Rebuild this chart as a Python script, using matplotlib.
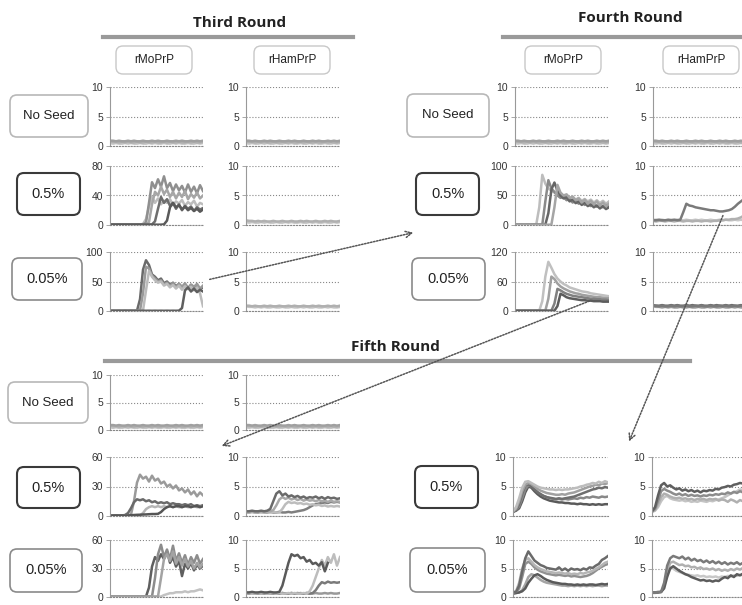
import matplotlib.pyplot as plt
import numpy as np
from matplotlib.patches import FancyBboxPatch, FancyArrowPatch
from matplotlib.transforms import Affine2D

W, H = 742, 605

# ThT readings, 32 time points per well
flat_a = [0.8, 0.7, 0.7, 0.6, 0.7, 0.6, 0.7, 0.6, 0.6, 0.7, 0.6, 0.6, 0.7, 0.6, 0.6, 0.7,
          0.6, 0.6, 0.7, 0.6, 0.7, 0.6, 0.6, 0.7, 0.6, 0.6, 0.7, 0.6, 0.7, 0.6, 0.6, 0.7]
flat_b = [0.5, 0.4, 0.5, 0.4, 0.4, 0.5, 0.4, 0.5, 0.4, 0.4, 0.5, 0.4, 0.4, 0.5, 0.4, 0.5,
          0.4, 0.4, 0.5, 0.4, 0.4, 0.5, 0.4, 0.5, 0.4, 0.4, 0.5, 0.4, 0.4, 0.5, 0.4, 0.5]
flat_c = [0.9, 0.9, 0.8, 0.9, 0.8, 0.8, 0.9, 0.8, 0.9, 0.8, 0.8, 0.9, 0.8, 0.8, 0.9, 0.8,
          0.9, 0.8, 0.8, 0.9, 0.8, 0.8, 0.9, 0.8, 0.9, 0.8, 0.8, 0.9, 0.8, 0.9, 0.8, 0.9]
flat_d = [1.0, 0.9, 0.9, 1.0, 0.9, 0.9, 1.0, 0.9, 1.0, 0.9, 0.9, 1.0, 0.9, 1.0, 0.9, 0.9,
          1.0, 0.9, 0.9, 1.0, 0.9, 1.0, 0.9, 0.9, 1.0, 0.9, 1.0, 0.9, 0.9, 1.0, 0.9, 1.0]

no_seed = [flat_b, flat_a, flat_c]

# third round
r3_05_mo = [
    [0.5, 0.6, 0.5, 0.6, 0.5, 0.6, 0.5, 0.6, 0.5, 0.6, 0.7, 1.5, 8, 25, 38, 30,
     36, 28, 33, 30, 35, 27, 32, 29, 34, 26, 31, 28, 33, 25, 30, 28],
    [0.5, 0.5, 0.6, 0.5, 0.5, 0.6, 0.5, 0.5, 0.6, 0.5, 0.6, 0.8, 3, 30, 58, 50,
     62, 52, 66, 50, 57, 46, 55, 47, 53, 44, 55, 45, 52, 43, 54, 46],
    [0.4, 0.5, 0.4, 0.5, 0.4, 0.5, 0.4, 0.5, 0.4, 0.5, 0.4, 0.5, 0.6, 4, 28, 45,
     40, 52, 42, 48, 38, 45, 36, 44, 38, 46, 35, 42, 37, 44, 36, 40],
    [0.5, 0.4, 0.5, 0.4, 0.5, 0.4, 0.5, 0.4, 0.5, 0.4, 0.5, 0.4, 0.5, 0.5, 0.8, 5,
     22, 38, 30, 35, 26, 30, 22, 28, 20, 26, 22, 25, 19, 24, 21, 23],
    [0.4, 0.5, 0.4, 0.5, 0.4, 0.5, 0.4, 0.5, 0.4, 0.5, 0.4, 0.5, 0.4, 0.5, 0.4, 0.5,
     0.4, 0.5, 0.8, 6, 24, 30, 24, 27, 21, 25, 20, 23, 19, 22, 18, 21],
]
r3_005_mo = [
    [0.5, 0.4, 0.5, 0.4, 0.5, 0.4, 0.5, 0.4, 0.5, 0.6, 20, 70, 86, 78, 62, 58,
     52, 55, 47, 50, 44, 48, 42, 46, 40, 45, 38, 44, 40, 43, 37, 40],
    [0.4, 0.5, 0.4, 0.5, 0.4, 0.5, 0.4, 0.5, 0.4, 0.5, 0.6, 30, 75, 72, 60, 55,
     50, 52, 45, 48, 42, 47, 40, 46, 41, 47, 39, 45, 41, 46, 38, 43],
    [0.5, 0.4, 0.5, 0.4, 0.5, 0.4, 0.5, 0.4, 0.5, 0.4, 0.5, 0.6, 35, 68, 58, 52,
     48, 50, 43, 46, 40, 44, 38, 43, 36, 42, 37, 41, 35, 40, 30, 8],
    [0.4, 0.5, 0.4, 0.5, 0.4, 0.5, 0.4, 0.5, 0.4, 0.5, 0.4, 0.5, 0.4, 0.5, 0.4, 0.5,
     0.4, 0.5, 0.4, 0.5, 0.4, 0.5, 0.4, 0.6, 5, 35, 40, 33, 38, 32, 36, 33],
]
r3_05_ham = [flat_b, flat_a]
r3_005_ham = [flat_a, flat_c]

# fourth round
r4_05_mo = [
    [0.5, 0.4, 0.5, 0.4, 0.5, 0.4, 0.5, 0.6, 30, 85, 70, 62, 58, 55, 52, 54,
     48, 50, 45, 48, 43, 46, 41, 44, 40, 43, 38, 42, 37, 41, 36, 40],
    [0.4, 0.5, 0.4, 0.5, 0.4, 0.5, 0.4, 0.5, 0.4, 0.6, 40, 76, 62, 56, 50, 46,
     48, 42, 45, 38, 42, 36, 40, 34, 38, 32, 37, 31, 35, 30, 34, 31],
    [0.5, 0.4, 0.5, 0.4, 0.5, 0.4, 0.5, 0.4, 0.5, 0.4, 0.6, 20, 60, 72, 58, 50,
     45, 47, 40, 43, 37, 40, 34, 38, 32, 35, 30, 33, 28, 32, 27, 30],
    [0.4, 0.5, 0.4, 0.5, 0.4, 0.5, 0.4, 0.5, 0.4, 0.5, 0.4, 0.5, 0.6, 30, 68, 55,
     50, 52, 46, 48, 42, 45, 38, 43, 36, 41, 35, 40, 33, 38, 32, 36],
]
r4_005_mo = [
    [0.5, 0.4, 0.5, 0.4, 0.5, 0.4, 0.5, 0.4, 0.6, 20, 70, 100, 88, 75, 66, 60,
     55, 52, 48, 46, 44, 42, 40, 39, 38, 36, 35, 34, 33, 32, 31, 30],
    [0.4, 0.5, 0.4, 0.5, 0.4, 0.5, 0.4, 0.5, 0.4, 0.5, 0.6, 25, 70, 65, 56, 50,
     46, 43, 40, 38, 36, 35, 33, 32, 31, 30, 29, 28, 28, 27, 26, 26],
    [0.5, 0.4, 0.5, 0.4, 0.5, 0.4, 0.5, 0.4, 0.5, 0.4, 0.5, 0.4, 0.6, 15, 45, 42,
     38, 35, 33, 31, 30, 29, 28, 27, 26, 25, 25, 24, 24, 23, 23, 22],
    [0.4, 0.5, 0.4, 0.5, 0.4, 0.5, 0.4, 0.5, 0.4, 0.5, 0.4, 0.5, 0.4, 0.6, 10, 35,
     32, 28, 26, 25, 24, 23, 22, 22, 21, 21, 20, 20, 20, 19, 19, 19],
]
r4_05_ham = [
    flat_c,
    [0.7, 0.6, 0.7, 0.7, 0.6, 0.7, 0.7, 0.6, 0.7, 0.7, 0.6, 0.7, 0.7, 0.6, 0.7, 0.7,
     0.6, 0.7, 0.7, 0.6, 0.7, 0.7, 0.8, 0.8, 0.9, 0.9, 1.0, 1.0, 1.1, 1.3, 1.6, 2.0],
    [0.8, 0.8, 0.9, 0.8, 0.8, 0.9, 0.8, 0.9, 0.8, 0.9, 2.2, 3.6, 3.3, 3.2, 3.0, 2.9,
     2.8, 2.7, 2.6, 2.5, 2.5, 2.4, 2.3, 2.3, 2.4, 2.5, 2.7, 3.1, 3.6, 4.0, 4.4, 4.8],
]
r4_005_ham = [flat_a, flat_d, flat_c]

# fifth round
r5_05_mo = [
    [0.5, 0.6, 0.5, 0.6, 0.5, 0.6, 0.8, 1.5, 15, 34, 42, 38, 40, 35, 41, 36,
     38, 33, 35, 30, 32, 28, 31, 26, 28, 24, 27, 22, 25, 20, 24, 21],
    [0.5, 0.5, 0.6, 0.5, 0.6, 1.0, 3, 8, 14, 17, 16, 17, 15, 16, 14, 15,
     13, 14, 13, 14, 12, 13, 12, 12, 11, 12, 11, 12, 10, 11, 10, 11],
    [0.5, 0.4, 0.5, 0.4, 0.5, 0.4, 0.5, 0.4, 0.5, 0.4, 0.6, 3, 7, 9, 10, 9,
     10, 9, 10, 9, 10, 9, 10, 9, 9, 10, 9, 9, 10, 9, 9, 10],
    [0.5, 0.5, 0.6, 0.5, 0.6, 0.5, 0.6, 0.8, 1.0, 1.2, 1.3, 1.5, 1.6, 1.8, 2.0, 2.0,
     2.2, 4, 7, 9, 10, 9, 10, 10, 9, 10, 10, 9, 10, 10, 9, 10],
]
r5_05_ham = [
    [0.6, 0.6, 0.7, 0.6, 0.6, 0.7, 0.6, 0.6, 0.7, 0.6, 0.6, 0.7, 0.6, 0.6, 0.7, 0.6,
     0.7, 0.8, 0.9, 1.0, 1.2, 1.5, 1.8, 2.0, 2.1, 2.2, 2.3, 2.2, 2.4, 2.3, 2.4, 2.3],
    [0.6, 0.6, 0.7, 0.6, 0.7, 0.6, 0.6, 0.7, 0.6, 0.7, 0.6, 0.6, 1.2, 2.0, 2.4, 2.2,
     2.3, 2.1, 2.2, 2.0, 2.1, 1.9, 2.0, 1.8, 1.9, 1.7, 1.8, 1.6, 1.7, 1.6, 1.7, 1.6],
    [0.7, 0.7, 0.8, 0.7, 0.7, 0.8, 0.7, 0.8, 0.8, 1.0, 1.8, 2.8, 3.2, 2.9, 3.1, 2.8,
     3.0, 2.7, 2.9, 2.6, 2.8, 2.6, 2.7, 2.5, 2.7, 2.5, 2.6, 2.4, 2.6, 2.4, 2.5, 2.4],
    [0.8, 0.8, 0.9, 0.8, 0.8, 0.9, 0.8, 0.9, 1.2, 2.5, 3.8, 4.2, 3.5, 3.8, 3.3, 3.5,
     3.2, 3.4, 3.1, 3.3, 3.0, 3.2, 3.1, 3.3, 3.0, 3.2, 2.9, 3.2, 3.0, 3.1, 2.9, 3.0],
]
r5_005_mo = [
    [0.4, 0.5, 0.4, 0.5, 0.4, 0.5, 0.4, 0.5, 0.4, 0.5, 0.4, 0.5, 0.4, 0.5, 0.4, 0.5,
     0.4, 0.5, 2, 3, 4, 4, 5, 5, 5, 6, 5, 6, 6, 7, 8, 7],
    [0.5, 0.4, 0.5, 0.4, 0.5, 0.4, 0.5, 0.4, 0.5, 0.4, 0.5, 0.4, 0.5, 10, 32, 42,
     38, 45, 40, 48, 36, 42, 32, 38, 22, 35, 30, 36, 28, 34, 30, 33],
    [0.4, 0.5, 0.4, 0.5, 0.4, 0.5, 0.4, 0.5, 0.4, 0.5, 0.4, 0.5, 0.4, 0.5, 0.6, 20,
     45, 55, 42, 50, 40, 54, 38, 46, 36, 44, 34, 42, 36, 44, 35, 40],
    [0.5, 0.4, 0.5, 0.4, 0.5, 0.4, 0.5, 0.4, 0.5, 0.4, 0.5, 0.4, 0.5, 0.4, 0.5, 0.4,
     0.6, 20, 40, 45, 38, 48, 35, 42, 33, 40, 32, 38, 30, 36, 31, 35],
]
r5_005_ham = [
    flat_a,
    [0.6, 0.6, 0.7, 0.6, 0.6, 0.7, 0.6, 0.7, 0.6, 0.6, 0.7, 0.6, 0.7, 0.6, 0.6, 0.7,
     0.6, 0.7, 0.6, 0.6, 0.7, 0.6, 0.7, 1.2, 2.0, 2.6, 2.4, 2.7, 2.5, 2.6, 2.5, 2.6],
    [0.6, 0.7, 0.6, 0.6, 0.7, 0.6, 0.7, 0.6, 0.6, 0.7, 0.6, 0.7, 0.6, 0.6, 0.7, 0.6,
     0.7, 0.6, 0.6, 0.7, 0.6, 1.0, 2.0, 3.5, 5.0, 6.5, 5.5, 7.0, 6.0, 7.5, 5.5, 7.0],
    [0.8, 0.8, 0.9, 0.8, 0.8, 0.9, 0.8, 0.8, 0.9, 0.8, 0.8, 0.9, 2.0, 4.0, 6.0, 7.5,
     7.2, 7.4, 6.8, 7.0, 6.2, 6.5, 5.8, 6.0, 5.5, 6.1, 4.5, 6.0,
     np.nan, np.nan, np.nan, np.nan],
]

# fifth round, right block
r5b_05_mo = [
    [0.7, 0.9, 1.3, 2.5, 4.0, 5.0, 4.8, 4.2, 3.7, 3.3, 3.0, 2.8, 2.6, 2.5, 2.4, 2.3,
     2.3, 2.2, 2.2, 2.1, 2.1, 2.0, 2.1, 2.0, 2.0, 1.9, 2.0, 1.9, 2.0, 1.9, 2.0, 2.0],
    [0.8, 1.0, 1.6, 3.0, 4.5, 5.2, 5.0, 4.6, 4.1, 3.7, 3.4, 3.2, 3.0, 2.9, 2.8, 2.9,
     2.8, 2.9, 2.8, 2.9, 3.0, 2.9, 3.1, 3.0, 3.2, 3.1, 3.3, 3.2, 3.1, 3.3, 3.2, 3.3],
    [0.7, 1.0, 2.0, 3.8, 5.2, 5.4, 5.0, 4.5, 4.0, 3.7, 3.4, 3.2, 3.1, 3.0, 2.9, 3.0,
     2.9, 3.0, 3.1, 3.2, 3.3, 3.5, 3.7, 3.9, 4.1, 4.3, 4.5, 4.6, 4.8, 4.7, 4.9, 4.8],
    [0.8, 1.2, 2.5, 4.2, 5.3, 5.6, 5.4, 5.0, 4.6, 4.3, 4.1, 3.9, 3.8, 3.7, 3.6, 3.6,
     3.7, 3.6, 3.8, 3.9, 4.0, 4.2, 4.4, 4.6, 4.8, 5.0, 5.1, 5.3, 5.2, 5.5, 5.4, 5.6],
    [0.8, 1.5, 3.0, 4.8, 5.8, 5.9, 5.6, 5.3, 5.0, 4.8, 4.7, 4.6, 4.5, 4.5, 4.4, 4.5,
     4.4, 4.5, 4.5, 4.6, 4.7, 4.8, 5.0, 5.1, 5.3, 5.4, 5.6, 5.5, 5.8, 5.6, 5.9, 5.7],
]
r5b_05_ham = [
    [0.7, 0.9, 1.5, 2.5, 3.2, 3.4, 3.0, 2.8, 2.7, 2.6, 2.7, 2.5, 2.6, 2.4, 2.5, 2.4,
     2.6, 2.5, 2.4, 2.6, 2.5, 2.7, 2.8, 3.0, 3.2, 3.5, 3.8, 4.0, 4.2, 4.5, 4.4, 4.6],
    [0.7, 1.0, 2.0, 3.2, 3.8, 3.6, 3.3, 3.1, 3.0, 3.1, 2.9, 3.0, 2.8, 2.9, 2.7, 2.9,
     2.8, 2.9, 2.7, 2.9, 2.8, 2.9, 2.6, 2.8, 2.7, 2.4, 2.8, 2.6, 2.3, 2.7, 2.5, 2.6],
    [0.8, 1.2, 2.6, 4.2, 4.6, 4.3, 4.1, 3.8, 3.6, 3.8, 3.5, 3.7, 3.4, 3.6, 3.4, 3.5,
     3.3, 3.5, 3.4, 3.6, 3.5, 3.7, 3.6, 3.8, 3.7, 4.0, 3.8, 4.1, 3.9, 4.2, 4.0, 4.3],
    [0.8, 1.5, 3.5, 5.2, 5.6, 5.0, 5.2, 4.8, 4.5, 4.7, 4.3, 4.5, 4.2, 4.4, 4.1, 4.3,
     4.0, 4.3, 4.2, 4.4, 4.3, 4.6, 4.5, 4.8, 4.9, 5.1, 5.0, 5.3, 5.4, 5.6, 5.5, 5.8],
]
r5b_005_mo = [
    [0.6, 0.7, 0.8, 1.2, 2.2, 3.5, 4.0, 3.8, 3.4, 3.0, 2.7, 2.5, 2.4, 2.3, 2.2, 2.1,
     2.0, 2.0, 1.9, 2.0, 1.9, 2.0, 1.9, 2.0, 1.9, 2.0, 1.9, 2.0, 2.0, 1.9, 2.0, 2.0],
    [0.6, 0.7, 0.8, 1.0, 1.5, 2.5, 3.2, 3.8, 4.0, 3.7, 3.3, 3.0, 2.8, 2.6, 2.5, 2.4,
     2.3, 2.3, 2.2, 2.2, 2.1, 2.2, 2.1, 2.2, 2.1, 2.2, 2.2, 2.1, 2.2, 2.3, 2.2, 2.3],
    [0.8, 0.9, 1.5, 3.5, 5.8, 6.2, 5.8, 5.2, 4.8, 4.5, 4.3, 4.1, 4.0, 3.9, 3.8, 3.9,
     3.8, 3.7, 3.8, 3.6, 3.7, 3.6, 3.5, 3.6, 3.7, 3.9, 4.2, 4.6, 5.0, 5.3, 5.6, 5.8],
    [0.8, 1.0, 2.5, 5.0, 6.5, 6.8, 6.2, 5.6, 5.2, 4.9, 4.7, 4.5, 4.4, 4.3, 4.2, 4.3,
     4.2, 4.1, 4.2, 4.0, 4.1, 4.0, 4.2, 4.1, 4.3, 4.4, 4.6, 4.9, 5.2, 5.6, 6.0, 6.2],
    [0.8, 0.9, 2.0, 4.5, 6.8, 8.0, 7.2, 6.4, 6.0, 5.6, 5.4, 5.1, 5.0, 4.9, 4.8, 5.2,
     4.7, 5.0, 4.6, 5.0, 4.8, 4.9, 4.7, 5.0, 4.8, 5.2, 5.1, 5.5, 5.8, 6.5, 6.8, 7.2],
]
r5b_005_ham = [
    [0.7, 0.7, 0.8, 0.8, 1.8, 4.0, 5.2, 5.0, 4.6, 4.4, 4.2, 4.0, 3.9, 3.8, 3.7, 3.8,
     3.6, 3.7, 3.5, 3.6, 3.5, 3.6, 3.4, 3.6, 3.5, 3.7, 3.6, 3.8, 3.7, 3.9, 3.8, 4.0],
    [0.7, 0.8, 0.8, 0.9, 2.0, 4.5, 6.0, 6.2, 5.9, 5.6, 5.7, 5.4, 5.5, 5.2, 5.3, 5.0,
     5.2, 4.9, 5.0, 4.8, 5.0, 4.7, 4.9, 4.6, 4.8, 4.6, 4.9, 4.7, 5.0, 4.8, 5.1, 4.9],
    [0.8, 0.8, 0.8, 0.9, 1.5, 3.5, 5.0, 5.4, 5.0, 4.6, 4.3, 4.0, 3.8, 3.5, 3.3, 3.1,
     2.9, 3.0, 2.8, 2.9, 2.7, 2.9, 2.8, 3.2, 3.5, 3.3, 3.8, 3.5, 4.0, 3.8, 4.1, 4.0],
    [0.8, 0.8, 0.9, 0.9, 2.5, 5.5, 6.8, 7.2, 7.0, 6.8, 7.1, 6.6, 6.9, 6.4, 6.7, 6.3,
     6.5, 6.1, 6.4, 6.0, 6.3, 5.9, 6.2, 5.8, 6.1, 5.7, 6.0, 5.8, 6.1, 5.7, 6.0, 5.9],
]

# gray levels for the wells
light = ['#c4c4c4', '#b0b0b0', '#a0a0a0']
mixed = ['#bdbdbd', '#8f8f8f', '#a6a6a6', '#6e6e6e', '#5a5a5a']
mixed4 = ['#6a6a6a', '#999999', '#bbbbbb', '#5f5f5f']
grays4 = ['#bdbdbd', '#8a8a8a', '#666666', '#a5a5a5']
grays4b = ['#c0c0c0', '#a0a0a0', '#808080', '#5c5c5c']
ham4 = ['#c8c8c8', '#b0b0b0', '#7a7a7a']
dark_flat = ['#999999', '#6e6e6e', '#7a7a7a']
r5mo = ['#9a9a9a', '#6a6a6a', '#b5b5b5', '#555555']
r5ham = ['#7f7f7f', '#bdbdbd', '#a8a8a8', '#6a6a6a']
r5mo2 = ['#c2c2c2', '#5f5f5f', '#8c8c8c', '#a3a3a3']
r5ham2 = ['#999999', '#7a7a7a', '#bdbdbd', '#5a5a5a']
band5 = ['#5a5a5a', '#888888', '#6e6e6e', '#a0a0a0', '#bdbdbd']
band4 = ['#c4c4c4', '#b0b0b0', '#8c8c8c', '#5f5f5f']
band5b = ['#a5a5a5', '#5a5a5a', '#909090', '#b5b5b5', '#6a6a6a']
band4b = ['#c8c8c8', '#b0b0b0', '#5c5c5c', '#7a7a7a']

fig = plt.figure(figsize=(W / 100, H / 100), dpi=100)
fig.patch.set_facecolor('white')

# image-pixel coordinates, y pointing down
px = Affine2D().scale(1 / W, -1 / H).translate(0, 1) + fig.transFigure


def panel(x0, x1, ytop, ybot, ymax, traces, shades):
    ax = fig.add_axes([x0 / W, 1 - ybot / H, (x1 - x0) / W, (ybot - ytop) / H])
    for y, c in zip(traces, shades):
        ax.plot(np.arange(len(y)), y, color=c, lw=1.8, solid_joinstyle='round')
    ax.set_xlim(0, 31)
    ax.set_ylim(0, ymax)
    ticks = [0, ymax / 2, ymax]
    ax.set_yticks(ticks)
    ax.set_yticklabels([f'{v:g}' for v in ticks], family='Liberation Sans')
    ax.set_xticks([])
    ax.tick_params(axis='y', labelsize=7.5, labelcolor='#333333', color='#999999',
                   length=3, width=0.6, pad=2)
    ax.yaxis.grid(True, linestyle=':', color='#888888', lw=0.8)
    ax.set_axisbelow(True)
    for s in ('top', 'right'):
        ax.spines[s].set_visible(False)
    ax.spines['bottom'].set_linestyle(':')
    ax.spines['bottom'].set_color('#888888')
    ax.spines['left'].set_color('#999999')
    ax.spines['left'].set_linewidth(0.8)
    return ax


def tag(x0, y0, x1, y1, text, edge, lw=1.3, size=10):
    box = FancyBboxPatch((x0, y0), x1 - x0, y1 - y0,
                         boxstyle='round,pad=0,rounding_size=7',
                         transform=px, facecolor='white', edgecolor=edge, lw=lw)
    fig.add_artist(box)
    fig.text((x0 + x1) / 2 / W, 1 - (y0 + y1) / 2 / H, text, ha='center', va='center',
             fontsize=size, color='#222222', family='Liberation Sans')


def heading(cx, cy, text, bx0, bx1, by):
    fig.text(cx / W, 1 - cy / H, text, ha='center', va='center', fontsize=11,
             fontweight='bold', color='#222222', family='Open Sans')
    fig.add_artist(plt.Line2D([bx0, bx1], [by, by], transform=px,
                              color='#9a9a9a', lw=3))


def arrow(a, b):
    fig.add_artist(FancyArrowPatch(a, b, transform=px, arrowstyle='->',
                                   mutation_scale=11, linestyle=(0, (1, 1)),
                                   color='#555555', lw=1.1, zorder=5))


# rows of each block (top, bottom in pixels)
rows_top = [(87, 146), (166, 225), (252, 311)]
rows_low = [(375, 430), (457, 516), (540, 597)]

# third round
panel(110, 203, *rows_top[0], 10, no_seed, light)
panel(246, 340, *rows_top[0], 10, no_seed, light)
panel(110, 203, *rows_top[1], 80, r3_05_mo, mixed)
panel(246, 340, *rows_top[1], 10, r3_05_ham, light)
panel(110, 203, *rows_top[2], 100, r3_005_mo, mixed4)
panel(246, 340, *rows_top[2], 10, r3_005_ham, light)

# fourth round
panel(515, 609, *rows_top[0], 10, no_seed, light)
panel(653, 747, *rows_top[0], 10, no_seed, light)
panel(515, 609, *rows_top[1], 100, r4_05_mo, grays4)
panel(653, 747, *rows_top[1], 10, r4_05_ham, ham4)
panel(515, 609, *rows_top[2], 120, r4_005_mo, grays4b)
panel(653, 747, *rows_top[2], 10, r4_005_ham, dark_flat)

# fifth round
panel(110, 203, *rows_low[0], 10, no_seed, light)
panel(246, 340, *rows_low[0], 10, no_seed, light)
panel(110, 203, *rows_low[1], 60, r5_05_mo, r5mo)
panel(246, 340, *rows_low[1], 10, r5_05_ham, r5ham)
panel(110, 203, *rows_low[2], 60, r5_005_mo, r5mo2)
panel(246, 340, *rows_low[2], 10, r5_005_ham, r5ham2)
panel(513, 608, *rows_low[1], 10, r5b_05_mo, band5)
panel(652, 746, *rows_low[1], 10, r5b_05_ham, band4)
panel(513, 608, *rows_low[2], 10, r5b_005_mo, band5b)
panel(652, 746, *rows_low[2], 10, r5b_005_ham, band4b)

# headings
heading(240, 23, 'Third Round', 103, 353, 37)
heading(630, 18, 'Fourth Round', 503, 745, 37)
heading(395, 347, 'Fifth Round', 105, 690, 361)

# column labels
for x0, x1, lab in [(116, 192, 'rMoPrP'), (254, 330, 'rHamPrP'),
                    (525, 601, 'rMoPrP'), (663, 739, 'rHamPrP')]:
    tag(x0, 46, x1, 74, lab, '#c8c8c8', lw=1.0, size=8.5)

# row labels
seed_tags = [
    (10, 95, 88, 137, 'No Seed', '#b8b8b8'),
    (17, 173, 80, 215, '0.5%', '#3a3a3a'),
    (12, 258, 82, 300, '0.05%', '#8a8a8a'),
    (407, 94, 489, 137, 'No Seed', '#b8b8b8'),
    (416, 173, 479, 215, '0.5%', '#3a3a3a'),
    (412, 258, 485, 300, '0.05%', '#8a8a8a'),
    (8, 382, 88, 423, 'No Seed', '#b8b8b8'),
    (17, 467, 80, 508, '0.5%', '#3a3a3a'),
    (10, 549, 82, 592, '0.05%', '#8a8a8a'),
    (415, 466, 478, 508, '0.5%', '#3a3a3a'),
    (410, 548, 485, 592, '0.05%', '#8a8a8a'),
]
for x0, y0, x1, y1, lab, edge in seed_tags:
    tag(x0, y0, x1, y1, lab, edge, lw=1.5 if edge == '#3a3a3a' else 1.2,
        size=9.5 if lab == 'No Seed' else 10.5)

# passage arrows
arrow((207, 280), (416, 232))
arrow((592, 300), (219, 447))
arrow((724, 213), (628, 444))

fig.savefig('out.png', dpi=100)
